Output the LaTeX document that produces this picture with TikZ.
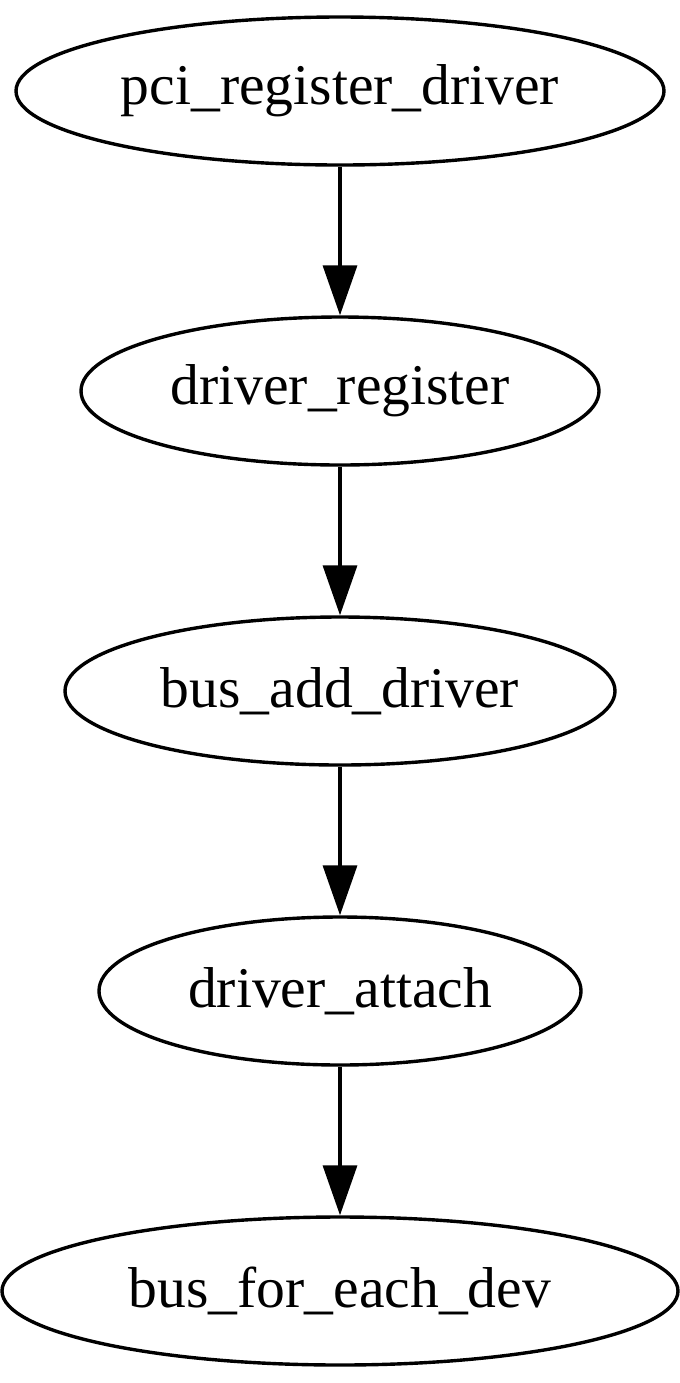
\documentclass[tikz,border=0pt]{standalone}
\usepackage{fontspec}
\setmainfont{Liberation Serif}
\usetikzlibrary{shapes.geometric,arrows.meta}
\begin{document}
\begin{tikzpicture}[x=0.25pt,y=-0.25pt,
  fn/.style={draw,ellipse,line width=0.85pt,inner sep=0pt,font=\fontsize{14.4}{17}\selectfont},
  call/.style={line width=0.85pt,-{Triangle[length=12.5pt,width=8.5pt]}}]
\useasboundingbox (0,0) rectangle (679,1383);
\node[fn,minimum width=162pt,minimum height=37pt] (a) at (340,91) {pci\_register\_driver};
\node[fn,minimum width=129.5pt,minimum height=37pt] (b) at (340,391) {driver\_register};
\node[fn,minimum width=137.5pt,minimum height=37pt] (c) at (340,691) {bus\_add\_driver};
\node[fn,minimum width=120.5pt,minimum height=37pt] (d) at (340,991) {driver\_attach};
\node[fn,minimum width=169pt,minimum height=37pt] (e) at (340,1291) {bus\_for\_each\_dev};
\draw[call] (a.south) -- (b.north);
\draw[call] (b.south) -- (c.north);
\draw[call] (c.south) -- (d.north);
\draw[call] (d.south) -- (e.north);
\end{tikzpicture}
\end{document}
